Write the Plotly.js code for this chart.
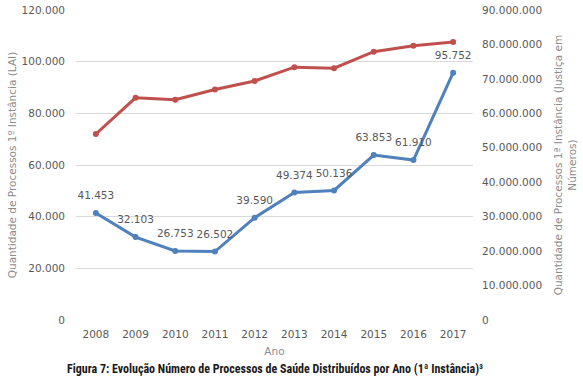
<!DOCTYPE html>
<html><head><meta charset="utf-8">
<script src="https://cdn.plot.ly/plotly-3.0.1.min.js"></script>
<style>html,body{margin:0;padding:0;background:#fff;}</style>
</head><body>
<div id="chart" style="width:583px;height:383px;"></div>
<script>
var years = ['2008','2009','2010','2011','2012','2013','2014','2015','2016','2017'];
var lai = [41453, 32103, 26753, 26502, 39590, 49374, 50136, 63853, 61910, 95752];
var laiLabels = ['41.453','32.103','26.753','26.502','39.590','49.374','50.136','63.853','61.910','95.752'];
var justica = [54000000, 64500000, 63950000, 66900000, 69400000, 73400000, 73100000, 77900000, 79600000, 80700000];
var leftTicks = [0, 20000, 40000, 60000, 80000, 100000, 120000];
var leftTickText = ['0','20.000','40.000','60.000','80.000','100.000','120.000'];
var rightTicks = [0,10000000,20000000,30000000,40000000,50000000,60000000,70000000,80000000,90000000];
var rightTickText = ['0','10.000.000','20.000.000','30.000.000','40.000.000','50.000.000','60.000.000','70.000.000','80.000.000','90.000.000'];

var tickFont = {family:'DejaVu Sans, Verdana, sans-serif', size:10.5, color:'#595959'};
var titleFont = {family:'DejaVu Sans, Verdana, sans-serif', size:10.5, color:'#8c8c8c'};

var traces = [
  {x: years, y: justica, yaxis:'y2', type:'scatter', mode:'lines+markers',
   line:{color:'#C0504D', width:3}, marker:{color:'#C0504D', size:6}, hoverinfo:'none'},
  {x: years, y: lai, type:'scatter', mode:'lines+markers',
   line:{color:'#4F81BD', width:3}, marker:{color:'#4F81BD', size:6}, hoverinfo:'none'},
  {x: years, y: lai, type:'scatter', mode:'markers+text',
   text: laiLabels, textposition:'top center', textfont: tickFont,
   marker:{size:16, opacity:0}, hoverinfo:'none', cliponaxis:false}
];

var layout = {
  width:583, height:383,
  margin:{l:76, r:110, t:10, b:63},
  paper_bgcolor:'#fff', plot_bgcolor:'#fff',
  showlegend:false,
  xaxis:{type:'category', range:[-0.5, 9.5], tickfont:tickFont, showgrid:false, zeroline:false, showline:false,
    ticks:'', ticklen:0, ticklabelstandoff:6,
    title:{text:'Ano', font:titleFont, standoff:9}},
  yaxis:{range:[0,120000], tickvals:leftTicks, ticktext:leftTickText, tickfont:tickFont,
    gridcolor:'#d9d9d9', gridwidth:1, zeroline:false, showline:false, ticks:'', ticklabelstandoff:10,
    title:{text:'Quantidade de Processos 1º Instância (LAI)', font:titleFont, standoff:2}},
  yaxis2:{range:[0,90000000], tickvals:rightTicks, ticktext:rightTickText, tickfont:tickFont,
    overlaying:'y', side:'right', showgrid:false, zeroline:false, showline:false, ticks:'', ticklabelstandoff:8,
    title:{text:'Quantidade de Processos 1ª Instância (Justiça em<br>Números)', font:titleFont, standoff:13}},
  annotations:[{xref:'paper', yref:'paper', x:0.5, y:-0.13, xanchor:'center', yanchor:'top', showarrow:false,
    text:'<b>Figura 7: Evolução Número de Processos de Saúde Distribuídos por Ano (1ª Instância)³</b>',
    font:{family:'Liberation Sans Narrow, Roboto Condensed, sans-serif', size:12, color:'#1a1a1a'}}]
};
Plotly.newPlot('chart', traces, layout, {displayModeBar:false, staticPlot:true});
</script>
</body></html>
